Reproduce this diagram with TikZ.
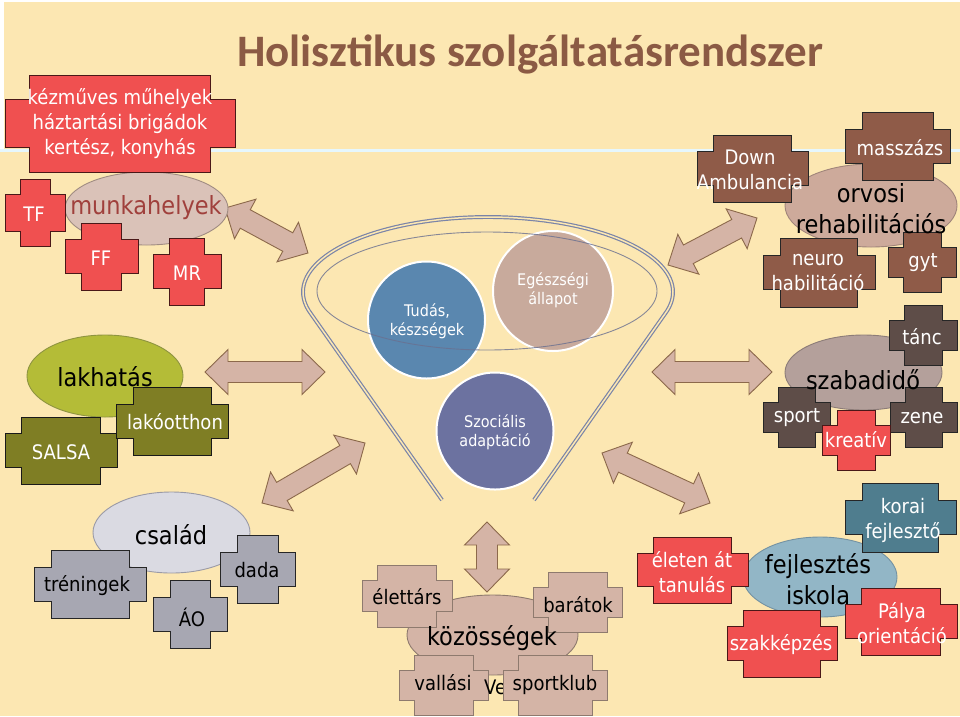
\documentclass[tikz,border=0pt]{standalone}
\usepackage{fontspec}
\setmainfont{DejaVu Sans}[FakeStretch=0.9]
\newfontfamily\titlefont{Carlito}
\usetikzlibrary{shapes.geometric}
\definecolor{bg}{HTML}{FCE7B2}
\definecolor{titlec}{HTML}{8B5A44}
\definecolor{redf}{HTML}{F05050}
\definecolor{redd}{HTML}{4A1818}
\definecolor{brownf}{HTML}{8F5B48}
\definecolor{darkf}{HTML}{5E4D48}
\definecolor{olivef}{HTML}{7F7E24}
\definecolor{limef}{HTML}{B4BC37}
\definecolor{limed}{HTML}{8E9440}
\definecolor{greyf}{HTML}{A7A7B2}
\definecolor{pinkf}{HTML}{D4B4A6}
\definecolor{pinkd}{HTML}{8E7A6E}
\definecolor{tealf}{HTML}{4F7D8E}
\definecolor{bluef}{HTML}{92B6C6}
\definecolor{blued}{HTML}{7492A2}
\definecolor{lgreyf}{HTML}{DADAE2}
\definecolor{lgreyd}{HTML}{9A9AA6}
\definecolor{mauvef}{HTML}{B4A09B}
\definecolor{mauved}{HTML}{8C7C78}
\definecolor{orvf}{HTML}{CDAA9B}
\definecolor{orvd}{HTML}{A0857A}
\definecolor{munkf}{HTML}{DAC2B8}
\definecolor{munkd}{HTML}{A08C82}
\definecolor{munkt}{HTML}{A0403C}
\definecolor{tudf}{HTML}{5A87AF}
\definecolor{egf}{HTML}{C8AA9C}
\definecolor{szocf}{HTML}{6C72A0}
\definecolor{arrf}{HTML}{D5B4A6}
\definecolor{arrd}{HTML}{8C694B}
\definecolor{funl}{HTML}{7A84A8}
\definecolor{inell}{HTML}{6A7090}

\newcommand\xbox[6]{%
  \pgfmathsetmacro\xn{0.25*min(#4,#5)}%
  \pgfmathsetmacro\xa{#4/2}%
  \pgfmathsetmacro\xb{#5/2}%
  \pgfmathsetmacro\xc{\xa-\xn}%
  \pgfmathsetmacro\xd{\xb-\xn}%
  \begin{scope}[shift={(#2,#3)}]
    \path[#6] (-\xc,-\xb) -- (\xc,-\xb) -- (\xc,-\xd) -- (\xa,-\xd) -- (\xa,\xd) -- (\xc,\xd) -- (\xc,\xb) -- (-\xc,\xb) -- (-\xc,\xd) -- (-\xa,\xd) -- (-\xa,-\xd) -- (-\xc,-\xd) -- cycle;
    \coordinate (#1) at (0,0);
  \end{scope}}

\newcommand\darrow[5]{%
  \pgfmathsetmacro\dl{veclen(#4-#2,#5-#3)}%
  \pgfmathsetmacro\dg{atan2(#3-#5,#4-#2)}%
  \pgfmathsetmacro\dm{\dl-23}%
  \begin{scope}[shift={(#2,#3)},rotate=\dg]
    \path[barrow] (0,0) -- (23,22.5) -- (23,10.5) -- (\dm,10.5) -- (\dm,22.5) -- (\dl,0) -- (\dm,-22.5) -- (\dm,-10.5) -- (23,-10.5) -- (23,-22.5) -- cycle;
    \coordinate (#1) at (\dl/2,0);
  \end{scope}}

\tikzset{
  barrow/.style={fill=arrf, draw=arrd, line width=0.9pt, line join=miter},
  redx/.style={fill=redf, draw=redd, line width=1pt},
  brownx/.style={fill=brownf, draw=black!85, line width=1pt},
  darkx/.style={fill=darkf, draw=black!85, line width=1pt},
  olivex/.style={fill=olivef, draw=black!90, line width=1pt},
  greyx/.style={fill=greyf, draw=black!85, line width=1pt},
  pinkx/.style={fill=pinkf, draw=pinkd, line width=1pt},
  tealx/.style={fill=tealf, draw=black!85, line width=1pt},
  ell/.style={ellipse, inner sep=0, line width=0.9pt},
  circ/.style={circle, inner sep=0, draw=white, line width=2pt},
  wt/.style={text=white, font=\fontsize{20}{25}\selectfont, align=center, inner sep=0},
  bt/.style={text=black, font=\fontsize{20}{25}\selectfont, align=center, inner sep=0},
  big/.style={text=black, font=\fontsize{25}{31}\selectfont, align=center, inner sep=0},
  ct/.style={text=white, font=\fontsize{16}{19}\selectfont, align=center, inner sep=0},
  funnelline/.style={draw=funl, line width=1.2pt, double=bg, double distance=1.5pt},
}

\begin{document}
\begin{tikzpicture}[x=1pt,y=-1pt]
\useasboundingbox (0,0) rectangle (960,716);
\fill[bg] (0,0) rectangle (960,716);
\fill[white] (0,0) rectangle (4,151);
\fill[white] (0,0) rectangle (960,2);
\draw[white!90!cyan, line width=3pt] (0,150) -- (960,150);

% title
\node[font={\titlefont\bfseries\fontsize{45}{54}\selectfont}, text=titlec, anchor=base] (title) at (530,66) {Holisztikus szolgáltatásrendszer};

% block arrows
\darrow{a1}{225}{208}{308}{253}
\darrow{a2}{205}{372}{325}{372}
\darrow{a3}{365}{443}{262}{503}
\darrow{a4}{668}{265}{757}{218}
\darrow{a5}{652}{372}{772}{372}
\darrow{a6}{602}{453}{710}{503}
\darrow{a7}{487}{522}{487}{592}

% funnel
\draw[funnelline] (442,500) -- plot[domain=0:1,samples=90,variable=\t] ({488+185*cos(196.6-213.2*\t)},{292-75*sin(196.6-213.2*\t)}) -- (534,500);
\node[circ, fill=tudf, minimum size=117pt] (tudasc) at (426.5,320) {};
\node[circ, fill=egf, minimum size=120pt] (egc) at (553,291) {};
\node[circ, fill=szocf, minimum size=117pt] (szocc) at (495,431) {};
\node[ellipse, draw=inell, line width=0.9pt, draw opacity=0.8, minimum width=340pt, minimum height=118pt, inner sep=0] (inner) at (487,291) {};

% ellipses
\node[ell, fill=munkf, draw=munkd, minimum width=163pt, minimum height=73pt] (munka) at (146.5,208.5) {};
\node[ell, fill=limef, draw=limed, minimum width=156pt, minimum height=82pt] (lakh) at (105,376) {};
\node[ell, fill=orvf, draw=orvd, minimum width=172pt, minimum height=83pt] (orvosi) at (871,205.5) {};
\node[ell, fill=mauvef, draw=mauved, minimum width=157pt, minimum height=75pt] (szabad) at (863.5,372.5) {};
\node[ell, fill=lgreyf, draw=lgreyd, minimum width=157pt, minimum height=81pt] (csalad) at (171.5,532.5) {};
\node[ell, fill=pinkf, draw=pinkd, minimum width=171pt, minimum height=80pt] (kozos) at (492.5,635) {};
\node[ell, fill=bluef, draw=blued, minimum width=154pt, minimum height=80pt] (fejl) at (820,577) {};

% cross shapes
\xbox{kez}{120}{123.5}{230}{97}{redx}
\xbox{tf}{35}{212.5}{60}{67}{redx}
\xbox{ff}{101.5}{256.5}{73}{67}{redx}
\xbox{mr}{187}{271.5}{68}{67}{redx}
\xbox{salsa}{61}{450.5}{112}{67}{olivex}
\xbox{lako}{172}{421}{112}{68}{olivex}
\xbox{down}{752.5}{168.5}{111}{67}{brownx}
\xbox{massz}{897.5}{146}{105}{68}{brownx}
\xbox{neuro}{819}{272.5}{112}{69}{brownx}
\xbox{gyt}{922}{262}{68}{60}{brownx}
\xbox{tanc}{923}{335}{68}{60}{darkx}
\xbox{sport}{796.5}{417}{67}{60}{darkx}
\xbox{zene}{923.5}{417}{67}{60}{darkx}
\xbox{kreativ}{856}{440}{68}{60}{redx}
\xbox{trening}{90}{584}{112}{68}{greyx}
\xbox{ao}{190}{614}{74}{68}{greyx}
\xbox{dada}{257.5}{569}{75}{68}{greyx}
\xbox{elettars}{407}{596}{90}{62}{pinkx}
\xbox{baratok}{577.5}{602}{89}{60}{pinkx}
\xbox{vallasi}{443.5}{685}{89}{60}{pinkx}
\node[bt, anchor=west] (ve) at (484,687) {Ve};
\xbox{sportklub}{555}{685}{104}{60}{pinkx}
\xbox{eleten}{692.5}{570}{111}{66}{redx}
\xbox{korai}{900.5}{517.5}{111}{69}{tealx}
\xbox{palya}{901}{621.5}{112}{67}{redx}
\xbox{szakk}{782}{643.5}{110}{67}{redx}

% texts
\node[wt] (kez-t) at (120,124) {kézműves műhelyek\\háztartási brigádok\\kertész, konyhás};
\node[big, text=munkt] (munka-t) at (146,208) {munkahelyek};
\node[wt] (tf-t) at (34,214) {TF};
\node[wt] (ff-t) at (101,258) {FF};
\node[wt] (mr-t) at (187,273) {MR};
\node[big] (lakh-t) at (105,377) {lakhatás};
\node[wt] (salsa-t) at (61,452) {SALSA};
\node[wt] (lako-t) at (175,422) {lakóotthon};
\node[ct] (tudas-t) at (427,321) {Tudás,\\készségek};
\node[ct] (eg-t) at (553,290) {Egészségi\\állapot};
\node[ct] (szoc-t) at (495,432) {Szociális\\adaptáció};
\node[wt] (down-t) at (750,170) {Down\\Ambulancia};
\node[big] (orvosi-t) at (871,209) {orvosi\\rehabilitációs};
\node[wt] (massz-t) at (900,148) {masszázs};
\node[wt] (neuro-t) at (818,273) {neuro\\habilitáció};
\node[wt] (gyt-t) at (923,263) {gyt};
\node[wt] (tanc-t) at (922,337) {tánc};
\node[big] (szabad-t) at (863,380) {szabadidő};
\node[wt] (sport-t) at (797,418) {sport};
\node[wt] (zene-t) at (922,418) {zene};
\node[wt] (kreativ-t) at (856,440) {kreatív};
\node[big] (csalad-t) at (171,535) {család};
\node[bt] (trening-t) at (87,586) {tréningek};
\node[bt] (ao-t) at (192,617) {ÁO};
\node[bt] (dada-t) at (257,570) {dada};
\node[big] (kozos-t) at (492,638) {közösségek};
\node[bt] (elettars-t) at (407,597) {élettárs};
\node[bt] (baratok-t) at (578,605) {barátok};
\node[bt] (vallasi-t) at (443,683) {vallási};
\node[bt] (sportklub-t) at (555,685) {sportklub};
\node[wt] (eleten-t) at (692,572) {életen át\\tanulás};
\node[big] (fejl-t) at (818,579) {fejlesztés\\iskola};
\node[wt] (korai-t) at (903,520) {korai\\fejlesztő};
\node[wt] (palya-t) at (902,623) {Pálya\\orientáció};
\node[wt] (szakk-t) at (781,645) {szakképzés};
\end{tikzpicture}
\end{document}
